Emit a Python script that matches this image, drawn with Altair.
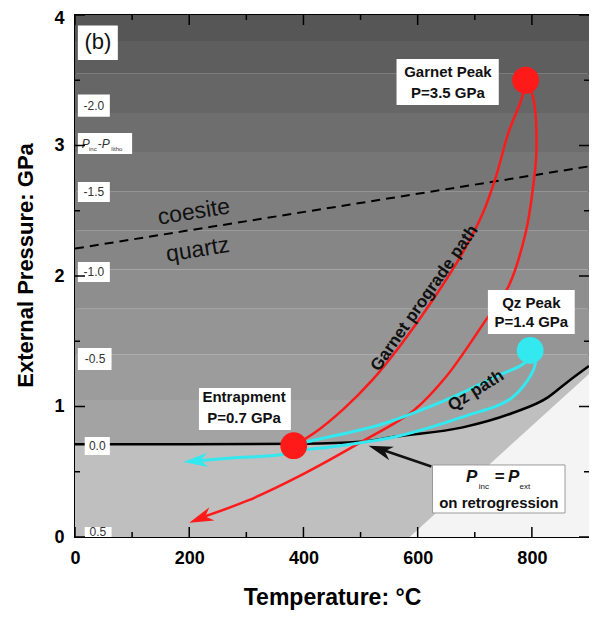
import altair as alt
import pandas as pd

W, H = 514, 522
FONT = "Liberation Sans"

# ---------------- data ----------------
band_lo = [0.70, 1.05, 1.40, 1.75, 2.05, 2.35, 2.65, 2.95, 3.25, 3.55, 3.80]
band_hi = [1.05, 1.40, 1.75, 2.05, 2.35, 2.65, 2.95, 3.25, 3.55, 3.80, 4.00]
band_gray = ["#a3a3a3", "#9c9c9c", "#959595", "#8e8e8e", "#868686", "#7e7e7e",
             "#767676", "#6e6e6e", "#666666", "#5e5e5e", "#565656"]

# P_inc = P_ext on retrogression (black curve)
curve_T = [0, 200, 400, 500, 563, 679, 766, 828, 863, 900]
curve_P = [0.71, 0.71, 0.715, 0.73, 0.77, 0.84, 0.95, 1.07, 1.19, 1.31]

# lightest field boundary (lower right)
diag_T = [586, 900]
diag_P = [0.0, 1.25]

# coesite / quartz reaction
cq_T = [0, 900]
cq_P = [2.21, 2.84]

# garnet P-T path (prograde then retrograde)
red_T = [383, 420, 470, 520, 570, 627, 679, 714, 737, 759, 783, 789,
         802, 808, 802, 789, 759, 719, 650, 593, 506, 390, 303, 215]
red_P = [0.70, 0.80, 0.98, 1.20, 1.47, 1.82, 2.18, 2.48, 2.76, 3.10, 3.37, 3.50,
         3.37, 2.97, 2.68, 2.33, 1.92, 1.66, 1.23, 0.97, 0.74, 0.46, 0.28, 0.14]

# quartz path
cyan_T = [383, 407, 534, 650, 737, 789, 797, 806, 766, 679, 563, 447, 390, 360, 274, 205]
cyan_P = [0.70, 0.73, 0.86, 1.05, 1.23, 1.34, 1.43, 1.33, 1.07, 0.92, 0.77, 0.69,
          0.66, 0.63, 0.605, 0.58]

# key points
pt_name = ["Entrapment", "Garnet Peak", "Qz Peak"]
pt_T = [383, 789, 797]
pt_P = [0.70, 3.50, 1.43]
pt_col = ["#ff1a1a", "#ff1a1a", "#33e8ee"]

# arrow heads (tip position, direction in degrees clockwise from up)
arr_T = [200, 190, 514]
arr_P = [0.11, 0.575, 0.70]
arr_ang = [249, 265, 289]
arr_col = ["#ff1a1a", "#33e8ee", "#111111"]

# pointer from annotation box
ptr_T = [624, 530]
ptr_P = [0.54, 0.68]

# contour labels (P_inc - P_litho)
ctr_text = ["-2.0", "-1.5", "-1.0", "-0.5", "0.0", "0.5"]
ctr_T = [33, 33, 33, 35, 39, 40]
ctr_P = [3.30, 2.64, 2.03, 1.365, 0.697, 0.035]

# white label boxes
box_T1 = [5, 563, 723, 217, 5, 5, 5, 5, 5, 17, 17]
box_T2 = [75, 742, 875, 378, 61, 100, 61, 61, 64, 61, 64]
box_P1 = [3.655, 3.31, 1.556, 0.82, 3.22, 2.935, 2.567, 1.954, 1.28, 0.628, 0.0]
box_P2 = [3.92, 3.663, 1.893, 1.142, 3.39, 3.096, 2.72, 2.107, 1.448, 0.766, 0.077]

# bold labels
lab_text = ["Garnet Peak", "P=3.5 GPa", "Qz Peak", "P=1.4 GPa",
            "Entrapment", "P=0.7 GPa", "on retrogression"]
lab_T = [653, 653, 799, 799, 296, 296, 742]
lab_P = [3.563, 3.40, 1.793, 1.648, 1.073, 0.912, 0.26]

x_major = [0, 200, 400, 600, 800]
x_minor = [100, 300, 500, 700]
y_major = [0, 1, 2, 3, 4]
y_minor = [0.5, 1.5, 2.5, 3.5]

# ---------------- scales & axes ----------------
xs = alt.Scale(domain=[0, 900], nice=False, zero=False)
ys = alt.Scale(domain=[0, 4], nice=False, zero=False)
xaxis = alt.Axis(values=x_major, title="Temperature: °C", ticks=False, tickSize=0,
                 domain=False, grid=False, labelFont=FONT, labelFontSize=18,
                 labelFontWeight="bold", labelColor="black", labelPadding=12,
                 labelFlush=False, titleFont=FONT, titleFontSize=23,
                 titleFontWeight="bold", titleColor="black", titlePadding=19)
yaxis = alt.Axis(values=y_major, title="External Pressure: GPa", ticks=False, tickSize=0,
                 domain=False, grid=False, labelFont=FONT, labelFontSize=18,
                 labelFontWeight="bold", labelColor="black", labelPadding=11,
                 labelFlush=False,
                 labelOffset={"condition": {"test": "datum.value == 4", "value": 3}, "value": 0},
                 titleFont=FONT, titleFontSize=22,
                 titleFontWeight="bold", titleColor="black", titlePadding=16,
                 titleY=250)


def X(f):
    return alt.X(f"{f}:Q", scale=xs, axis=xaxis)


def Y(f):
    return alt.Y(f"{f}:Q", scale=ys, axis=yaxis)


def text_layer(T, P, t, **props):
    df = pd.DataFrame({"T": T, "P": P, "t": t})
    base = dict(font=FONT, color="#111111", baseline="middle", align="center")
    base.update(props)
    return alt.Chart(df).mark_text(**base).encode(x=X("T"), y=Y("P"), text="t:N")


# ---------------- layers ----------------
bands = alt.Chart(pd.DataFrame({"lo": band_lo, "hi": band_hi, "g": band_gray})).mark_rect().encode(
    x=alt.value(0), x2=alt.value(W), y=Y("lo"), y2=alt.Y2("hi"),
    color=alt.Color("g:N", scale=None))

curve_df = pd.DataFrame({"T": curve_T, "P": curve_P})
under = alt.Chart(curve_df).mark_area(color="#bfbfbf", interpolate="monotone").encode(
    x=X("T"), y=Y("P"), y2=alt.datum(0))

light = alt.Chart(pd.DataFrame({"T": diag_T, "P": diag_P})).mark_area(color="#f4f4f4").encode(
    x=X("T"), y=Y("P"), y2=alt.datum(0))

cq = alt.Chart(pd.DataFrame({"T": cq_T, "P": cq_P})).mark_line(
    color="black", strokeDash=[9, 6], strokeWidth=2).encode(x=X("T"), y=Y("P"))

curve = alt.Chart(curve_df).mark_line(color="black", strokeWidth=2.5, interpolate="monotone").encode(
    x=X("T"), y=Y("P"))

red = alt.Chart(pd.DataFrame({"T": red_T, "P": red_P, "i": range(len(red_T))})).mark_line(
    color="#ff1a1a", strokeWidth=2.5, interpolate="catmull-rom").encode(
    x=X("T"), y=Y("P"), order="i:Q")

cyan = alt.Chart(pd.DataFrame({"T": cyan_T, "P": cyan_P, "i": range(len(cyan_T))})).mark_line(
    color="#33e8ee", strokeWidth=3, interpolate="catmull-rom").encode(
    x=X("T"), y=Y("P"), order="i:Q")

ptr = alt.Chart(pd.DataFrame({"T": ptr_T, "P": ptr_P})).mark_line(
    color="#111111", strokeWidth=2.5).encode(x=X("T"), y=Y("P"))

heads = alt.Chart(pd.DataFrame({"T": arr_T, "P": arr_P, "a": arr_ang, "c": arr_col})).mark_point(
    shape="M0,0L0.5,1.7L0,1.2L-0.5,1.7Z", filled=True, opacity=1, size=820, strokeWidth=0).encode(
    x=X("T"), y=Y("P"), angle=alt.Angle("a:Q", scale=None), color=alt.Color("c:N", scale=None))

dots = alt.Chart(pd.DataFrame({"T": pt_T, "P": pt_P, "c": pt_col, "n": pt_name})).mark_circle(
    size=720, opacity=1).encode(x=X("T"), y=Y("P"), color=alt.Color("c:N", scale=None))

boxes = alt.Chart(pd.DataFrame({"T1": box_T1, "T2": box_T2, "P1": box_P1, "P2": box_P2})).mark_rect(
    color="white").encode(x=X("T1"), x2=alt.X2("T2"), y=Y("P1"), y2=alt.Y2("P2"))

pbox = alt.Chart(pd.DataFrame({"T1": [626], "T2": [858], "P1": [0.184], "P2": [0.552]})).mark_rect(
    fill="white", stroke="#9a9a9a", strokeWidth=1).encode(
    x=X("T1"), x2=alt.X2("T2"), y=Y("P1"), y2=alt.Y2("P2"))

labels = text_layer(lab_T, lab_P, lab_text, fontSize=15, fontWeight="bold")
ctr = text_layer(ctr_T, ctr_P, ctr_text, fontSize=12, color="#333333")
b_lab = text_layer([40], [3.79], ["(b)"], fontSize=22)
phase = text_layer([208, 215], [2.49, 2.20], ["coesite", "quartz"], fontSize=23, angle=351)
gpath = text_layer([612], [1.83], ["Garnet prograde path"], fontSize=17, fontWeight="bold", angle=305)
qpath = text_layer([702], [1.12], ["Qz path"], fontSize=17, fontWeight="bold", angle=328)

# P_inc = P_ext with subscripts (anchored at box centre, pixel offsets)
pe = [
    text_layer([742], [0.46], ["P"], fontSize=17, fontWeight="bold", fontStyle="italic", dx=-27),
    text_layer([742], [0.46], ["inc"], fontSize=8, dx=-15, dy=10),
    text_layer([742], [0.46], ["="], fontSize=17, fontWeight="bold", dx=1),
    text_layer([742], [0.46], ["P"], fontSize=17, fontWeight="bold", fontStyle="italic", dx=15),
    text_layer([742], [0.46], ["ext"], fontSize=8, dx=26, dy=10),
]
# P_inc - P_litho
pl = [
    text_layer([5], [3.015], ["P"], fontSize=12, fontStyle="italic", color="#333333", dx=8),
    text_layer([5], [3.015], ["inc"], fontSize=6, color="#333333", dx=15, dy=5),
    text_layer([5], [3.015], ["-"], fontSize=12, color="#333333", dx=22),
    text_layer([5], [3.015], ["P"], fontSize=12, fontStyle="italic", color="#333333", dx=28),
    text_layer([5], [3.015], ["litho"], fontSize=6, color="#333333", dx=39, dy=5),
]


# inward ticks on all four sides
def xt(vals, L):
    d = pd.DataFrame({"T": vals})
    b = alt.Chart(d).mark_rule(color="black", strokeWidth=1.5).encode(
        x=X("T"), y=alt.value(H), y2=alt.value(H - L))
    t = alt.Chart(d).mark_rule(color="black", strokeWidth=1.5).encode(
        x=X("T"), y=alt.value(0), y2=alt.value(L))
    return [b, t]


def yt(vals, L):
    d = pd.DataFrame({"P": vals})
    l = alt.Chart(d).mark_rule(color="black", strokeWidth=1.5).encode(
        y=Y("P"), x=alt.value(0), x2=alt.value(L))
    r = alt.Chart(d).mark_rule(color="black", strokeWidth=1.5).encode(
        y=Y("P"), x=alt.value(W), x2=alt.value(W - L))
    return [l, r]


ticks = xt(x_major, 10) + xt(x_minor, 5) + yt(y_major, 10) + yt(y_minor, 5)

chart = alt.layer(
    bands, under, light, cq, curve, red, cyan, ptr, heads, dots,
    boxes, pbox, labels, ctr, b_lab, phase, gpath, qpath,
    *pe, *pl, *ticks
).properties(
    width=W, height=H,
    autosize=alt.AutoSizeParams(type="none"),
    padding={"left": 67, "top": 7, "right": 0, "bottom": 74},
    background="white"
).configure_view(stroke="black", strokeWidth=2)

chart.save("out.html", embed_options={"renderer": "svg", "actions": False})
